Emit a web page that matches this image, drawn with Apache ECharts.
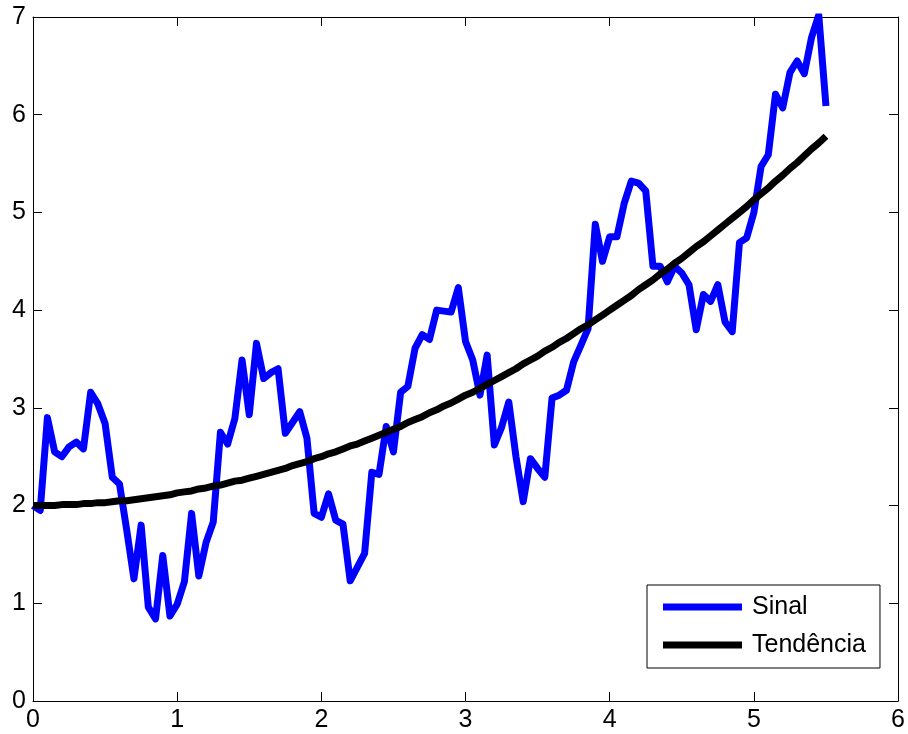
<!DOCTYPE html>
<html>
<head>
<meta charset="utf-8">
<script src="https://cdn.jsdelivr.net/npm/echarts@6/dist/echarts.min.js"></script>
<style>
  html, body { margin: 0; padding: 0; background: #fff; }
  #chart { width: 908px; height: 734px; }
</style>
</head>
<body>
<div id="chart"></div>
<script>
// Sample instants (s), 0 to 5.5 in steps of 0.05
const sampleTimes = [
  0.00, 0.05, 0.10, 0.15, 0.20, 0.25, 0.30, 0.35, 0.40, 0.45,
  0.50, 0.55, 0.60, 0.65, 0.70, 0.75, 0.80, 0.85, 0.90, 0.95,
  1.00, 1.05, 1.10, 1.15, 1.20, 1.25, 1.30, 1.35, 1.40, 1.45,
  1.50, 1.55, 1.60, 1.65, 1.70, 1.75, 1.80, 1.85, 1.90, 1.95,
  2.00, 2.05, 2.10, 2.15, 2.20, 2.25, 2.30, 2.35, 2.40, 2.45,
  2.50, 2.55, 2.60, 2.65, 2.70, 2.75, 2.80, 2.85, 2.90, 2.95,
  3.00, 3.05, 3.10, 3.15, 3.20, 3.25, 3.30, 3.35, 3.40, 3.45,
  3.50, 3.55, 3.60, 3.65, 3.70, 3.75, 3.80, 3.85, 3.90, 3.95,
  4.00, 4.05, 4.10, 4.15, 4.20, 4.25, 4.30, 4.35, 4.40, 4.45,
  4.50, 4.55, 4.60, 4.65, 4.70, 4.75, 4.80, 4.85, 4.90, 4.95,
  5.00, 5.05, 5.10, 5.15, 5.20, 5.25, 5.30, 5.35, 5.40, 5.45,
  5.50
];

// Measured signal
const sinalValues = [
  2.00, 1.95, 2.90, 2.55, 2.50, 2.60, 2.65, 2.58, 3.16, 3.04,
  2.84, 2.29, 2.22, 1.75, 1.25, 1.80, 0.96, 0.84, 1.49, 0.87,
  0.99, 1.22, 1.92, 1.28, 1.62, 1.83, 2.75, 2.63, 2.89, 3.49,
  2.93, 3.66, 3.30, 3.36, 3.40, 2.74, 2.85, 2.96, 2.69, 1.92,
  1.88, 2.12, 1.85, 1.81, 1.23, 1.37, 1.51, 2.34, 2.32, 2.81,
  2.55, 3.16, 3.22, 3.61, 3.75, 3.70, 4.00, 3.99, 3.98, 4.23,
  3.68, 3.49, 3.13, 3.54, 2.62, 2.80, 3.06, 2.50, 2.04, 2.48,
  2.38, 2.29, 3.10, 3.13, 3.18, 3.47, 3.64, 3.81, 4.88, 4.50,
  4.75, 4.75, 5.09, 5.32, 5.30, 5.22, 4.45, 4.45, 4.29, 4.45,
  4.38, 4.26, 3.80, 4.16, 4.09, 4.26, 3.88, 3.78, 4.69, 4.74,
  5.00, 5.47, 5.59, 6.21, 6.07, 6.43, 6.55, 6.42, 6.79, 7.02,
  6.09
];

// Trend of the signal
const tendenciaValues = [
  2.00, 2.00, 2.00, 2.00, 2.01, 2.01, 2.01, 2.02, 2.02, 2.03,
  2.03, 2.04, 2.05, 2.05, 2.06, 2.07, 2.08, 2.09, 2.10, 2.11,
  2.13, 2.14, 2.15, 2.17, 2.18, 2.20, 2.21, 2.23, 2.25, 2.26,
  2.28, 2.30, 2.32, 2.34, 2.36, 2.38, 2.41, 2.43, 2.45, 2.48,
  2.50, 2.53, 2.55, 2.58, 2.61, 2.63, 2.66, 2.69, 2.72, 2.75,
  2.78, 2.81, 2.85, 2.88, 2.91, 2.95, 2.98, 3.02, 3.05, 3.09,
  3.13, 3.16, 3.20, 3.24, 3.28, 3.32, 3.36, 3.40, 3.45, 3.49,
  3.53, 3.58, 3.62, 3.67, 3.71, 3.76, 3.81, 3.85, 3.90, 3.95,
  4.00, 4.05, 4.10, 4.15, 4.21, 4.26, 4.31, 4.37, 4.42, 4.48,
  4.53, 4.59, 4.65, 4.70, 4.76, 4.82, 4.88, 4.94, 5.00, 5.06,
  5.13, 5.19, 5.25, 5.32, 5.38, 5.45, 5.51, 5.58, 5.65, 5.71,
  5.78
];

const seriesNames = ['Sinal', 'Tendência'];
const seriesColors = ['#0000ff', '#000000'];

const FONT = 'Liberation Sans, Arial, Helvetica, sans-serif';

function pairs(xs, ys) {
  return xs.map((x, i) => [x, ys[i]]);
}

function frameAxis(position, showLabels, margin) {
  return {
    type: 'value',
    position: position,
    axisLine: { show: true, onZero: false, lineStyle: { color: '#000', width: 1 } },
    axisTick: { show: true, inside: true, length: 9, lineStyle: { color: '#000', width: 1 } },
    axisLabel: {
      show: showLabels,
      color: '#000',
      fontSize: 25,
      fontFamily: FONT,
      margin: margin
    },
    splitLine: { show: false }
  };
}

const xBottom = Object.assign(frameAxis('bottom', true, 7), { min: 0, max: 6, interval: 1 });
const xTop = Object.assign(frameAxis('top', false, 6), { min: 0, max: 6, interval: 1 });
const yLeft = Object.assign(frameAxis('left', true, 7), { min: 0, max: 7, interval: 1 });
const yRight = Object.assign(frameAxis('right', false, 6), { min: 0, max: 7, interval: 1 });

const chart = echarts.init(document.getElementById('chart'), null, { renderer: 'canvas' });

chart.setOption({
  animation: false,
  backgroundColor: '#ffffff',
  grid: { left: 33, right: 6, top: 17, bottom: 33, containLabel: false },
  xAxis: [xBottom, xTop],
  yAxis: [yLeft, yRight],
  legend: {
    data: seriesNames,
    orient: 'vertical',
    left: 647,
    top: 585,
    padding: [9, 14, 10, 16],
    itemGap: 12,
    itemWidth: 79,
    itemHeight: 7,
    icon: 'rect',
    borderColor: '#000',
    borderWidth: 1,
    borderRadius: 0,
    backgroundColor: '#ffffff',
    selectedMode: false,
    textStyle: {
      color: '#000',
      fontSize: 25,
      fontFamily: FONT,
      lineHeight: 26,
      padding: [0, 0, 0, 5]
    }
  },
  series: [
    {
      name: seriesNames[0],
      type: 'line',
      xAxisIndex: 0,
      yAxisIndex: 0,
      data: pairs(sampleTimes, sinalValues),
      showSymbol: false,
      symbol: 'none',
      color: seriesColors[0],
      itemStyle: { color: seriesColors[0] },
      lineStyle: { color: seriesColors[0], width: 7, join: 'round', cap: 'butt' },
      z: 2
    },
    {
      name: seriesNames[1],
      type: 'line',
      xAxisIndex: 0,
      yAxisIndex: 0,
      data: pairs(sampleTimes, tendenciaValues),
      showSymbol: false,
      symbol: 'none',
      color: seriesColors[1],
      itemStyle: { color: seriesColors[1] },
      lineStyle: { color: seriesColors[1], width: 7, join: 'round', cap: 'butt' },
      z: 3
    }
  ]
});
</script>
</body>
</html>
